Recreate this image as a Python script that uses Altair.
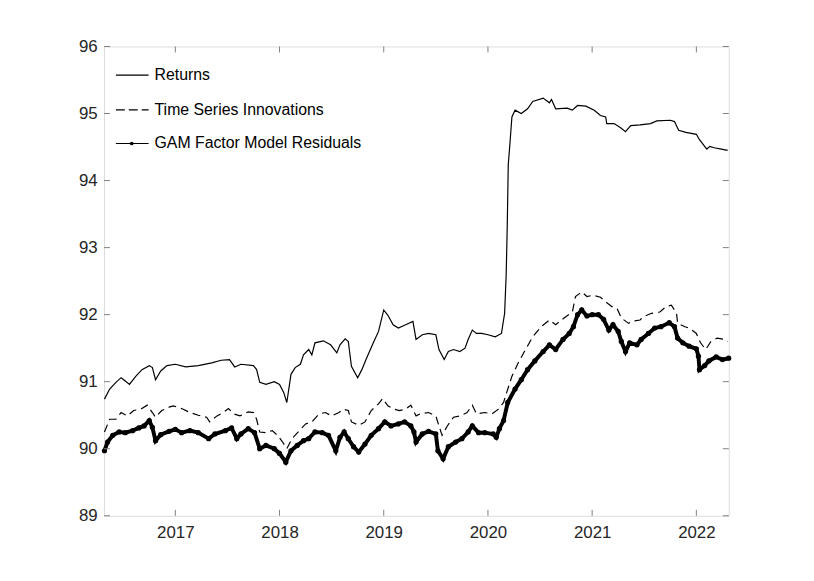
import altair as alt
import pandas as pd

# ---- data (x in decimal years) ----
ret_x = [2016.32, 2016.37, 2016.43, 2016.48, 2016.52, 2016.56, 2016.62, 2016.68, 2016.75, 2016.78,
         2016.81, 2016.86, 2016.92, 2017.00, 2017.10, 2017.22, 2017.35, 2017.44, 2017.52, 2017.57,
         2017.63, 2017.75, 2017.78, 2017.81, 2017.87, 2017.95, 2018.00, 2018.04, 2018.07, 2018.11,
         2018.15, 2018.20, 2018.23, 2018.28, 2018.31, 2018.34, 2018.42, 2018.49, 2018.55, 2018.58,
         2018.63, 2018.66, 2018.69, 2018.75, 2018.79, 2018.83, 2018.90, 2018.95, 2019.00, 2019.04,
         2019.09, 2019.14, 2019.21, 2019.28, 2019.31, 2019.37, 2019.43, 2019.50, 2019.53, 2019.58,
         2019.62, 2019.67, 2019.73, 2019.78, 2019.81, 2019.85, 2019.89, 2019.94, 2020.00, 2020.07,
         2020.13, 2020.16, 2020.175, 2020.185, 2020.195, 2020.21, 2020.23, 2020.26, 2020.32, 2020.38,
         2020.43, 2020.53, 2020.59, 2020.61, 2020.65, 2020.76, 2020.81, 2020.86, 2020.94, 2021.02,
         2021.08, 2021.13, 2021.14, 2021.21, 2021.27, 2021.32, 2021.37, 2021.46, 2021.56, 2021.62,
         2021.75, 2021.79, 2021.83, 2021.90, 2022.00, 2022.03, 2022.10, 2022.13, 2022.17, 2022.24,
         2022.30]
ret_y = [90.74, 90.89, 90.99, 91.06, 91.01, 90.96, 91.08, 91.18, 91.24, 91.21,
         91.03, 91.16, 91.24, 91.26, 91.22, 91.24, 91.28, 91.32, 91.33, 91.22,
         91.26, 91.24, 91.18, 90.99, 90.96, 91.00, 90.96, 90.84, 90.69, 91.11,
         91.21, 91.26, 91.40, 91.48, 91.40, 91.58, 91.61, 91.55, 91.43, 91.55,
         91.64, 91.60, 91.23, 91.06, 91.18, 91.33, 91.58, 91.75, 92.07, 91.99,
         91.85, 91.80, 91.85, 91.90, 91.63, 91.70, 91.72, 91.70, 91.48, 91.33,
         91.45, 91.48, 91.45, 91.50, 91.63, 91.77, 91.72, 91.72, 91.70, 91.67,
         91.72, 92.02, 92.60, 93.30, 94.24, 94.53, 94.95, 95.05, 95.00, 95.07,
         95.18, 95.23, 95.16, 95.21, 95.07, 95.08, 95.05, 95.12, 95.11, 95.05,
         94.97, 94.95, 94.85, 94.85, 94.79, 94.73, 94.82, 94.83, 94.85, 94.89,
         94.90, 94.88, 94.75, 94.72, 94.69, 94.61, 94.47, 94.51, 94.49, 94.47,
         94.45]

inn_x = [2016.32, 2016.37, 2016.43, 2016.48, 2016.54, 2016.60, 2016.67, 2016.73, 2016.78, 2016.81,
         2016.87, 2016.94, 2016.98, 2017.06, 2017.14, 2017.22, 2017.30, 2017.33, 2017.40, 2017.46,
         2017.51, 2017.56, 2017.62, 2017.70, 2017.75, 2017.78, 2017.81, 2017.87, 2017.93, 2017.98,
         2018.03, 2018.07, 2018.12, 2018.19, 2018.25, 2018.31, 2018.38, 2018.44, 2018.50, 2018.57,
         2018.61, 2018.66, 2018.69, 2018.76, 2018.82, 2018.88, 2018.95, 2018.99, 2019.04, 2019.10,
         2019.15, 2019.21, 2019.26, 2019.31, 2019.35, 2019.43, 2019.50, 2019.53, 2019.56, 2019.61,
         2019.67, 2019.73, 2019.80, 2019.85, 2019.89, 2019.97, 2020.04, 2020.10, 2020.15, 2020.18,
         2020.23, 2020.29, 2020.35, 2020.43, 2020.51, 2020.59, 2020.65, 2020.73, 2020.81, 2020.84,
         2020.90, 2020.95, 2021.01, 2021.08, 2021.13, 2021.19, 2021.24, 2021.28, 2021.35, 2021.38,
         2021.46, 2021.49, 2021.57, 2021.65, 2021.71, 2021.76, 2021.81, 2021.82, 2021.89, 2021.93,
         2022.00, 2022.04, 2022.09, 2022.14, 2022.20, 2022.27, 2022.30]
inn_y = [90.25, 90.44, 90.44, 90.54, 90.49, 90.57, 90.59, 90.65, 90.54, 90.47,
         90.57, 90.62, 90.64, 90.60, 90.54, 90.50, 90.47, 90.40, 90.49, 90.54,
         90.60, 90.52, 90.49, 90.55, 90.54, 90.44, 90.25, 90.24, 90.27, 90.20,
         90.10, 90.00, 90.15, 90.27, 90.37, 90.40, 90.52, 90.54, 90.49, 90.54,
         90.59, 90.57, 90.40, 90.35, 90.40, 90.57, 90.67, 90.75, 90.64, 90.59,
         90.57, 90.59, 90.65, 90.49, 90.52, 90.54, 90.49, 90.34, 90.20, 90.34,
         90.47, 90.49, 90.54, 90.65, 90.52, 90.54, 90.52, 90.59, 90.69, 90.84,
         91.08, 91.28, 91.45, 91.67, 91.82, 91.92, 91.85, 91.95, 92.04, 92.27,
         92.34, 92.27, 92.29, 92.26, 92.19, 92.12, 92.09, 91.95, 91.87, 91.90,
         91.92, 91.97, 92.02, 92.04, 92.12, 92.14, 92.02, 91.87, 91.82, 91.80,
         91.72, 91.58, 91.48, 91.60, 91.65, 91.63, 91.60]

gam_x = [2016.32, 2016.35, 2016.40, 2016.46, 2016.52, 2016.59, 2016.65, 2016.70, 2016.75, 2016.78,
         2016.81, 2016.86, 2016.94, 2017.00, 2017.06, 2017.14, 2017.22, 2017.32, 2017.38, 2017.48,
         2017.54, 2017.59, 2017.63, 2017.70, 2017.76, 2017.81, 2017.87, 2017.95, 2018.00, 2018.06,
         2018.11, 2018.17, 2018.23, 2018.28, 2018.34, 2018.41, 2018.47, 2018.54, 2018.58, 2018.62,
         2018.66, 2018.71, 2018.76, 2018.82, 2018.88, 2018.95, 2019.01, 2019.07, 2019.14, 2019.20,
         2019.26, 2019.29, 2019.31, 2019.37, 2019.43, 2019.50, 2019.52, 2019.57, 2019.62, 2019.69,
         2019.75, 2019.81, 2019.85, 2019.91, 2019.97, 2020.05, 2020.08, 2020.11, 2020.15, 2020.19,
         2020.26, 2020.32, 2020.38, 2020.45, 2020.53, 2020.59, 2020.65, 2020.72, 2020.78, 2020.82,
         2020.86, 2020.90, 2020.95, 2021.00, 2021.06, 2021.11, 2021.16, 2021.20, 2021.25, 2021.28,
         2021.32, 2021.36, 2021.43, 2021.47, 2021.54, 2021.60, 2021.66, 2021.74, 2021.79, 2021.82,
         2021.87, 2021.93, 2022.00, 2022.02, 2022.03, 2022.08, 2022.12, 2022.19, 2022.25, 2022.31]
gam_y = [89.97, 90.10, 90.20, 90.25, 90.24, 90.27, 90.31, 90.34, 90.42, 90.32,
         90.12, 90.21, 90.26, 90.29, 90.24, 90.27, 90.24, 90.15, 90.22, 90.27,
         90.31, 90.15, 90.22, 90.30, 90.24, 90.00, 90.05, 90.00, 89.93, 89.80,
         89.97, 90.05, 90.12, 90.15, 90.25, 90.24, 90.20, 89.97, 90.17, 90.25,
         90.15, 90.03, 89.95, 90.07, 90.20, 90.30, 90.40, 90.34, 90.37, 90.40,
         90.34, 90.25, 90.10, 90.22, 90.26, 90.22, 89.97, 89.85, 90.03, 90.10,
         90.15, 90.25, 90.34, 90.24, 90.24, 90.22, 90.17, 90.30, 90.42, 90.69,
         90.89, 91.03, 91.18, 91.31, 91.45, 91.55, 91.48, 91.63, 91.72, 91.82,
         92.00, 92.07, 91.98, 92.00, 92.00, 91.93, 91.77, 91.85, 91.75, 91.60,
         91.45, 91.58, 91.55, 91.63, 91.72, 91.80, 91.82, 91.88, 91.82, 91.65,
         91.58, 91.53, 91.49, 91.38, 91.18, 91.24, 91.31, 91.37, 91.33, 91.35]

series_names = ["Returns", "Time Series Innovations", "GAM Factor Model Residuals"]
x_ticks = [2017, 2018, 2019, 2020, 2021, 2022]
y_ticks = [89, 90, 91, 92, 93, 94, 95, 96]
x_domain = [2016.316, 2022.311]
y_domain = [89, 96]

W, H = 631, 474
FONT = "Liberation Sans"
AX = "#808080"
TXT = "#262626"

df_ret = pd.DataFrame({"t": ret_x, "v": ret_y})
df_inn = pd.DataFrame({"t": inn_x, "v": inn_y})
df_gam = pd.DataFrame({"t": gam_x, "v": gam_y})
df_xt = pd.DataFrame({"t": x_ticks})
df_yt = pd.DataFrame({"v": y_ticks})

xs = alt.Scale(domain=x_domain, nice=False, zero=False)
ys = alt.Scale(domain=y_domain, nice=False, zero=False)

X = alt.X("t:Q", scale=xs, title=None,
          axis=alt.Axis(values=x_ticks, format="d", domain=False, ticks=False, tickSize=0,
                        grid=False, labelPadding=9, labelFontSize=17, labelFont=FONT,
                        labelColor=TXT))
Y = alt.Y("v:Q", scale=ys, title=None,
          axis=alt.Axis(values=y_ticks, format="d", domain=False, ticks=False, tickSize=0,
                        grid=False, labelPadding=7, labelFontSize=17, labelFont=FONT,
                        labelColor=TXT))

l_ret = alt.Chart(df_ret).mark_line(color="black", strokeWidth=1.2).encode(x=X, y=Y)
l_inn = alt.Chart(df_inn).mark_line(color="black", strokeWidth=1.2, strokeDash=[8, 5]).encode(
    x=alt.X("t:Q", scale=xs), y=alt.Y("v:Q", scale=ys))
l_gam = alt.Chart(df_gam).mark_line(color="black", strokeWidth=4).encode(
    x=alt.X("t:Q", scale=xs), y=alt.Y("v:Q", scale=ys))
p_gam = alt.Chart(df_gam).mark_circle(color="black", size=28, opacity=1).encode(
    x=alt.X("t:Q", scale=xs), y=alt.Y("v:Q", scale=ys))

# inward ticks on all four sides
tk = dict(color=AX, strokeWidth=1)
t_bot = alt.Chart(df_xt).mark_rule(**tk).encode(x=alt.X("t:Q", scale=xs), y=alt.value(H), y2=alt.value(H - 6))
t_top = alt.Chart(df_xt).mark_rule(**tk).encode(x=alt.X("t:Q", scale=xs), y=alt.value(0), y2=alt.value(6))
t_lft = alt.Chart(df_yt).mark_rule(**tk).encode(y=alt.Y("v:Q", scale=ys), x=alt.value(0), x2=alt.value(6))
t_rgt = alt.Chart(df_yt).mark_rule(**tk).encode(y=alt.Y("v:Q", scale=ys), x=alt.value(W), x2=alt.value(W - 6))

# legend (top-left, no box)
leg_y = [29, 64, 98]
lg1 = alt.Chart(pd.DataFrame({"n": [series_names[0]]})).mark_rule(color="black", strokeWidth=1.2).encode(
    x=alt.value(12), x2=alt.value(45), y=alt.value(leg_y[0]))
lg2 = alt.Chart(pd.DataFrame({"n": [series_names[1]]})).mark_rule(color="black", strokeWidth=1.2, strokeDash=[9, 4]).encode(
    x=alt.value(12), x2=alt.value(45), y=alt.value(leg_y[1]))
lg3 = alt.Chart(pd.DataFrame({"n": [series_names[2]]})).mark_rule(color="black", strokeWidth=1.2).encode(
    x=alt.value(12), x2=alt.value(45), y=alt.value(leg_y[2]))
lg3p = alt.Chart(pd.DataFrame({"n": [series_names[2]]})).mark_circle(color="black", size=14, opacity=1).encode(
    x=alt.value(28), y=alt.value(leg_y[2]))
txt = []
for i, nm in enumerate(series_names):
    txt.append(alt.Chart(pd.DataFrame({"n": [nm]})).mark_text(
        align="left", baseline="middle", font=FONT, fontSize=16, color="black").encode(
        x=alt.value(51), y=alt.value(leg_y[i]), text="n:N"))

chart = alt.layer(l_ret, l_inn, l_gam, p_gam, t_bot, t_top, t_lft, t_rgt,
                  lg1, lg2, lg3, lg3p, *txt).properties(
    width=W, height=H,
    autosize=alt.AutoSizeParams(type="none"),
    padding={"left": 97, "top": 36, "right": 78, "bottom": 63},
).configure_view(stroke=AX, strokeWidth=1).configure(background="white")

chart.save("out.html", embed_options={"renderer": "svg", "actions": False})
